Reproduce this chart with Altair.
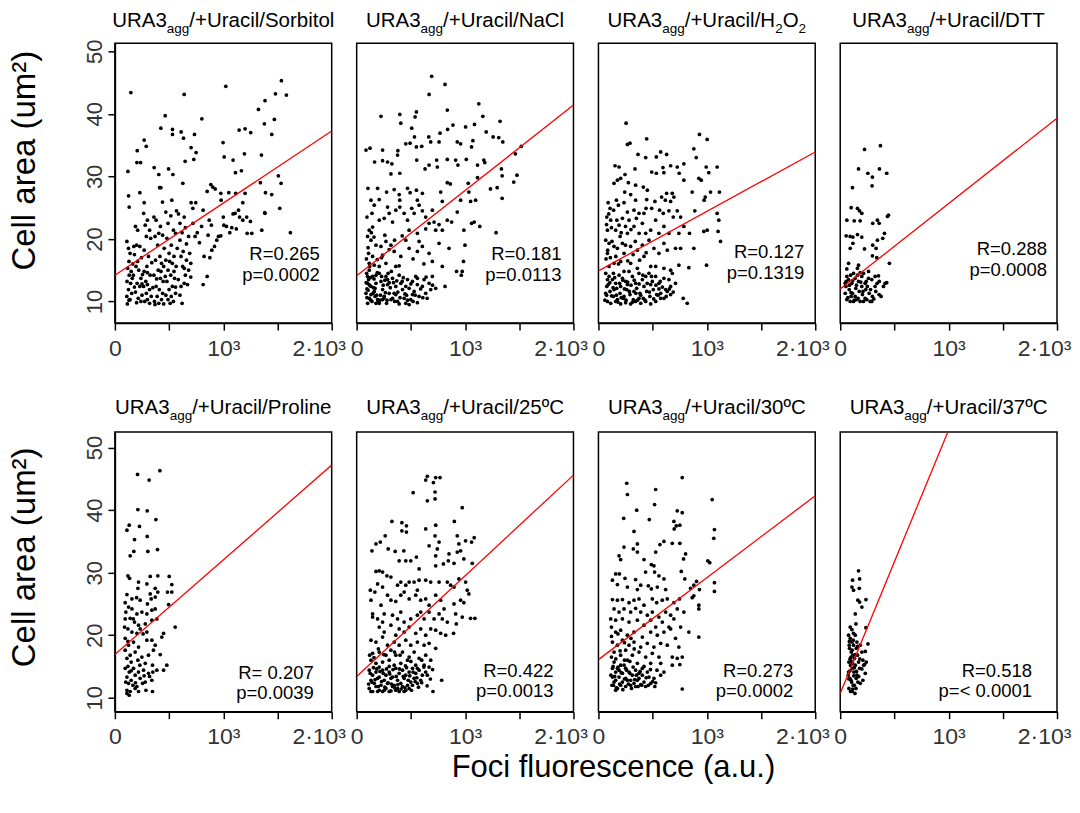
import altair as alt
import pandas as pd

# ---------------- data ----------------
X_TICKS = [0, 500, 1000, 1500, 2000]
Y_TICKS = [10, 20, 30, 40, 50]

TITLE_SEGMENTS = [
    [("URA3", 0), ("agg", 1), ("/+Uracil/Sorbitol", 0)],
    [("URA3", 0), ("agg", 1), ("/+Uracil/NaCl", 0)],
    [("URA3", 0), ("agg", 1), ("/+Uracil/H", 0), ("2", 1), ("O", 0), ("2", 1)],
    [("URA3", 0), ("agg", 1), ("/+Uracil/DTT", 0)],
    [("URA3", 0), ("agg", 1), ("/+Uracil/Proline", 0)],
    [("URA3", 0), ("agg", 1), ("/+Uracil/25ºC", 0)],
    [("URA3", 0), ("agg", 1), ("/+Uracil/30ºC", 0)],
    [("URA3", 0), ("agg", 1), ("/+Uracil/37ºC", 0)],
]
R_TEXT = ["R=0.265", "R=0.181", "R=0.127", "R=0.288", "R= 0.207", "R=0.422", "R=0.273", "R=0.518"]
P_TEXT = ["p=0.0002", "p=0.0113", "p=0.1319", "p=0.0008", "p=0.0039", "p=0.0013", "p=0.0002", "p=< 0.0001"]

# regression line: value at x=0 and at x=2000
LINE_Y0 = [14.2, 14.1, 14.9, 12.0, 16.9, 13.4, 16.1, 10.7]
LINE_Y2000 = [37.25, 41.4, 33.9, 39.3, 47.2, 45.6, 42.3, 94.9]

sorbitol = [
    (147, 43.4), (639, 43.1), (1023, 44.4), (1536, 45.3), (1582, 43.0), (1481, 43.2), (1385, 42.1), (1324, 40.7),
    (464, 39.7), (802, 39.2), (1471, 39.1), (1379, 38.4), (1253, 37.0), (1447, 36.7), (1201, 37.6), (1146, 37.4),
    (424, 37.7), (531, 37.5), (531, 36.7), (611, 37.1), (633, 36.1), (734, 36.7), (998, 35.4), (270, 35.8), (289, 34.8),
    (206, 34.1), (203, 32.2), (237, 32.2), (703, 34.6), (749, 33.8), (728, 32.7), (648, 32.4), (1195, 33.6), (1352, 33.4),
    (1008, 33.1), (1090, 32.6), (1167, 30.9), (1112, 30.6), (362, 31.4), (495, 31.2), (405, 30.3), (535, 30.3), (120, 30.8),
    (1508, 30.1), (1533, 28.9), (1342, 29.0), (126, 26.9), (230, 27.4), (412, 28.2), (424, 28.2), (627, 28.9), (885, 28.7),
    (903, 28.3), (925, 28.0), (851, 27.6), (977, 27.3), (1051, 27.4), (1389, 27.4), (1201, 27.3), (1115, 27.3), (1447, 27.1),
    (132, 25.1), (270, 25.8), (439, 25.9), (525, 26.2), (703, 25.8), (746, 25.8), (719, 24.9), (814, 24.6), (980, 26.2),
    (1109, 24.1), (1140, 24.6), (1180, 25.8), (1382, 24.2), (1521, 24.9),
    (111, 19.6), (125, 18.5), (140, 17.7), (190, 22.0), (210, 21.4), (200, 19.0), (175, 18.8), (230, 18.8), (180, 17.5),
    (245, 17.0), (265, 24.1), (300, 23.0), (280, 22.2), (320, 21.4), (290, 20.4), (330, 20.1), (270, 18.2), (310, 17.2),
    (295, 15.6), (360, 23.5), (380, 23.0), (420, 22.0), (405, 20.9), (440, 20.6), (370, 20.4), (395, 19.0), (455, 18.5),
    (415, 17.2), (375, 16.6), (430, 16.1), (450, 15.6), (470, 24.3), (516, 23.7), (568, 24.5), (490, 22.5), (540, 21.4),
    (560, 20.9), (480, 20.1), (520, 19.0), (575, 18.5), (500, 17.7), (545, 17.2), (470, 16.6), (530, 16.1), (565, 15.6),
    (587, 24.0), (639, 23.5), (600, 22.5), (650, 21.8), (620, 21.0), (680, 20.4), (600, 19.8), (660, 19.2), (630, 18.0),
    (690, 17.7), (610, 17.2), (660, 16.6), (700, 16.1), (625, 15.6), (720, 22.5), (760, 21.0), (740, 20.4), (800, 22.0),
    (780, 19.4), (823, 17.2), (876, 17.0), (894, 18.2), (919, 18.8), (940, 19.8), (955, 20.4), (977, 20.5), (870, 23.0),
    (890, 22.2), (860, 20.6), (1029, 22.0), (1078, 21.8), (1005, 22.2), (1000, 23.5), (1060, 21.0), (1120, 21.6),
    (1150, 23.5), (1180, 23.0), (1220, 20.9), (1250, 22.8), (1090, 24.0), (1216, 23.5), (1263, 20.9), (1355, 21.4),
    (1385, 24.1), (1619, 21.0),
    (118, 15.3), (150, 14.8), (132, 14.2), (160, 13.7), (112, 13.2), (145, 12.9), (125, 11.9), (155, 11.3), (110, 10.8),
    (140, 10.3), (115, 9.6), (195, 15.6), (220, 15.0), (170, 14.2), (240, 13.7), (205, 12.9), (230, 12.4), (190, 11.5),
    (250, 11.0), (215, 10.5), (240, 10.0), (200, 9.8), (270, 14.8), (325, 14.2), (285, 13.2), (300, 12.7), (265, 12.4),
    (320, 11.9), (290, 11.3), (335, 10.8), (300, 10.3), (275, 10.0), (320, 9.7), (400, 15.0), (360, 14.2), (420, 13.7),
    (445, 13.2), (380, 12.4), (410, 11.9), (440, 11.3), (390, 10.8), (430, 10.3), (365, 10.0), (405, 9.7), (450, 9.6),
    (370, 9.5), (490, 15.0), (515, 14.2), (550, 13.7), (480, 13.2), (530, 12.4), (500, 11.9), (560, 11.3), (520, 10.8),
    (490, 10.3), (540, 10.0), (510, 9.7), (680, 15.0), (650, 14.2), (700, 13.9), (640, 12.9), (610, 12.4), (670, 12.7),
    (620, 9.7), (851, 14.0), (814, 12.7),
]
sorbitol_dense = [
    (130, 16.4), (165, 16.0), (210, 16.4), (255, 14.3), (300, 14.6), (340, 16.2), (385, 13.6), (425, 14.8), (465, 14.0),
    (505, 16.4), (545, 14.8), (585, 13.5), (600, 11.0), (640, 15.3), (470, 11.0), (350, 12.2), (250, 12.8), (180, 12.3),
    (130, 10.2), (560, 12.3),
]

nacl = [
    (692, 46.0), (815, 44.7), (668, 43.1), (836, 40.6), (1127, 41.6), (1164, 39.6), (1323, 38.8), (224, 39.6), (398, 39.9),
    (551, 40.3), (539, 39.5), (407, 38.5), (508, 37.7), (839, 37.5), (888, 38.2), (1005, 37.9), (1087, 38.3), (1195, 37.1),
    (1259, 36.3), (1311, 36.2), (1348, 35.5), (665, 36.3), (769, 36.9), (533, 36.3), (453, 35.2), (493, 35.3), (551, 34.7),
    (600, 34.8), (683, 35.5), (760, 35.5), (928, 35.5), (959, 35.2), (1072, 35.7), (1060, 34.7), (86, 34.2), (123, 34.5),
    (239, 34.2), (380, 34.1), (377, 33.4), (1519, 34.8), (1464, 33.6), (165, 32.3), (239, 32.5), (285, 32.3), (325, 32.0),
    (316, 30.4), (398, 30.5), (554, 32.6), (631, 31.2), (668, 31.8), (738, 32.6), (744, 31.5), (836, 32.7), (913, 32.6),
    (934, 31.8), (1011, 32.7), (1115, 31.8), (1182, 32.2), (1173, 32.6), (1335, 31.2), (1342, 30.1), (1479, 30.2),
    (1449, 29.1), (1234, 28.0), (1296, 28.2), (1342, 26.5), (1286, 21.0), (1115, 29.8),
    (104, 28.1), (193, 28.1), (132, 26.2), (162, 25.4), (208, 26.3), (276, 27.5), (346, 27.9), (392, 27.1), (398, 26.2),
    (469, 28.1), (493, 27.4), (551, 27.8), (606, 27.3), (560, 26.2), (775, 27.5), (836, 29.0), (864, 28.8), (790, 26.0),
    (959, 26.2), (1029, 28.9), (1035, 27.5), (1051, 26.0), (1097, 26.2),
    (95, 23.5), (141, 24.1), (116, 21.4), (147, 21.9), (208, 23.0), (254, 23.3), (285, 25.1), (300, 24.1), (331, 22.7),
    (361, 24.6), (398, 25.1), (438, 24.1), (469, 23.0), (484, 21.4), (508, 24.9), (530, 24.1), (576, 25.4), (606, 24.5),
    (637, 23.5), (668, 22.5), (698, 24.6), (714, 22.7), (729, 21.4), (760, 22.3), (790, 21.4), (836, 23.0), (876, 22.7),
    (928, 24.3), (989, 21.4), (1060, 22.5), (1084, 22.7), (1136, 22.0), (560, 20.9), (637, 21.6),
    (101, 20.4), (132, 19.8), (178, 19.0), (110, 17.7), (147, 17.2), (224, 18.8), (270, 19.6), (239, 17.4), (316, 19.0),
    (346, 18.0), (407, 17.2), (453, 19.8), (484, 18.5), (560, 18.0), (576, 19.6), (606, 18.8), (668, 17.7), (698, 16.4),
    (760, 19.3), (790, 15.6), (852, 18.5), (999, 19.0), (986, 16.4), (116, 16.1), (162, 15.8), (208, 15.6), (270, 16.1),
    (361, 15.6), (392, 15.7), (974, 14.8), (965, 14.2), (922, 14.8),
    (92, 14.5), (110, 13.5), (132, 12.4), (86, 11.3), (116, 10.5), (101, 9.7), (147, 14.0), (178, 12.9), (162, 11.6),
    (193, 10.3), (141, 10.0), (208, 14.5), (224, 13.2), (239, 11.9), (254, 10.8), (208, 9.7), (270, 14.0), (285, 12.7),
    (300, 11.3), (316, 10.3), (276, 9.7), (331, 13.7), (361, 12.4), (346, 11.3), (377, 10.0), (392, 14.2), (407, 12.9),
    (423, 11.9), (438, 10.5), (453, 9.7), (469, 13.5), (484, 12.1), (515, 11.1), (499, 10.3), (545, 14.0), (560, 12.7),
    (530, 11.6), (576, 10.8), (606, 12.4), (637, 11.3), (668, 12.9), (622, 13.5), (698, 14.0), (729, 12.1), (683, 11.9),
    (815, 12.4), (560, 9.8), (392, 9.6), (484, 9.5), (101, 12.9), (132, 11.1), (178, 9.7), (239, 10.3), (331, 10.5),
    (361, 11.1), (285, 13.5), (178, 14.2), (116, 15.0), (453, 12.4), (515, 13.2), (95, 12.0), (125, 13.8), (155, 12.2),
    (185, 11.0), (215, 10.2), (245, 12.6), (265, 11.4), (300, 13.0), (350, 10.0), (420, 13.2), (460, 11.0), (520, 10.0),
    (590, 12.0), (650, 10.5), (95, 10.6), (170, 10.8),
]
nacl_dense = [
    (88, 13.0), (100, 14.0), (105, 11.8), (120, 12.6), (130, 10.2), (150, 11.3), (160, 13.6), (170, 12.1), (190, 14.6),
    (200, 10.0), (220, 11.0), (230, 14.0), (250, 10.5), (260, 13.4), (280, 10.2), (290, 14.5), (310, 12.2), (320, 14.8),
    (340, 13.0), (370, 13.3), (380, 11.5), (400, 10.6), (430, 13.8), (445, 11.2), (470, 10.2), (500, 12.8), (540, 11.0),
    (560, 13.7), (610, 10.6), (640, 13.9), (700, 12.6), (90, 16.8), (105, 18.6), (120, 15.6), (135, 21.0), (160, 20.3),
    (190, 16.7), (230, 17.0), (260, 20.6), (300, 18.3), (350, 19.8), (420, 20.5), (520, 16.8), (620, 16.0),
]

h2o2 = [
    (255, 38.5), (267, 35.1), (291, 35.3), (445, 36.0), (932, 36.7), (1003, 35.9), (365, 33.5), (436, 33.0), (534, 33.1),
    (574, 33.9), (629, 33.5), (880, 34.4), (902, 33.0), (788, 32.0), (727, 31.5), (666, 31.7), (595, 31.4), (153, 31.7),
    (190, 31.5), (337, 31.2), (491, 30.7), (534, 30.5), (604, 30.6), (745, 30.5), (788, 29.4), (994, 31.5), (1018, 30.6),
    (1095, 31.5), (926, 29.7), (948, 29.4), (245, 30.3), (175, 29.4), (205, 29.7), (144, 28.9), (276, 29.0), (414, 28.3),
    (451, 27.8), (343, 28.6), (242, 27.5), (297, 27.1), (681, 27.3), (696, 26.7), (629, 27.3), (865, 27.5), (1034, 27.5),
    (1116, 27.5), (985, 26.7), (975, 26.2),
    (166, 26.2), (89, 25.8), (107, 24.9), (184, 25.4), (236, 25.8), (343, 26.2), (445, 26.3), (521, 26.0), (583, 26.7),
    (617, 26.2), (666, 26.0), (439, 24.9), (491, 24.9), (564, 24.6), (598, 24.1), (650, 24.5), (690, 23.5), (727, 24.5),
    (758, 23.5), (328, 24.6), (374, 24.1), (420, 24.1), (267, 24.3), (221, 23.3), (889, 24.5), (1095, 24.1), (1110, 23.0),
    (77, 23.5), (113, 23.0), (159, 21.4), (83, 21.4), (190, 22.2), (282, 23.0), (328, 22.0), (405, 22.5), (436, 20.9),
    (482, 21.4), (528, 23.0), (558, 20.9), (604, 22.0), (650, 20.9), (788, 22.0), (742, 20.9), (840, 20.9), (972, 21.2),
    (1003, 21.4), (1104, 21.2), (1126, 19.6), (267, 20.9), (375, 20.9),
    (67, 19.8), (98, 19.3), (144, 18.8), (83, 17.7), (175, 18.5), (221, 19.3), (236, 17.7), (297, 18.8), (359, 18.2),
    (405, 19.0), (420, 17.2), (466, 19.8), (512, 18.5), (558, 17.7), (604, 19.3), (635, 18.2), (711, 18.5), (758, 18.5),
    (880, 18.5), (742, 15.8), (834, 15.4), (997, 15.8), (482, 15.6), (528, 15.6), (604, 15.3), (666, 15.0), (144, 16.1),
    (205, 16.4), (297, 16.1), (359, 15.3), (98, 15.6),
    (67, 14.5), (98, 14.0), (129, 13.5), (159, 12.9), (190, 14.2), (221, 13.7), (251, 13.2), (282, 14.8), (313, 14.0),
    (343, 12.9), (374, 14.5), (405, 13.5), (436, 14.0), (466, 14.5), (497, 13.2), (528, 14.0), (558, 12.9), (604, 13.7),
    (650, 13.5), (681, 14.5), (711, 12.9), (666, 12.4), (620, 11.9), (77, 12.4), (107, 11.6), (138, 10.8), (169, 12.1),
    (199, 11.3), (230, 10.5), (261, 11.9), (291, 11.1), (322, 10.3), (353, 12.1), (383, 11.3), (414, 10.5), (445, 11.6),
    (475, 10.8), (506, 11.9), (537, 11.1), (574, 11.3), (604, 10.5), (635, 11.6), (666, 11.1), (83, 10.0), (113, 9.7),
    (159, 10.0), (205, 9.6), (251, 9.8), (297, 9.6), (343, 10.0), (390, 9.7), (436, 10.0), (482, 9.6), (528, 10.0),
    (574, 10.5), (782, 10.5), (819, 9.7), (138, 14.5), (236, 14.8), (420, 12.4), (482, 12.7), (558, 12.0), (83, 13.5),
    (67, 11.3), (175, 10.3), (267, 12.7), (328, 11.6), (205, 12.4), (144, 11.9), (236, 10.8), (374, 10.5),
]
h2o2_dense = [
    (60, 10.2), (75, 11.0), (90, 12.7), (105, 13.0), (120, 10.9), (135, 12.2), (150, 13.8), (165, 11.0), (180, 9.9),
    (195, 12.9), (210, 10.6), (225, 13.4), (240, 12.0), (255, 10.2), (270, 13.1), (285, 11.6), (300, 12.6), (315, 9.9),
    (330, 13.4), (345, 11.3), (360, 10.2), (375, 12.8), (390, 11.0), (410, 14.2), (430, 10.2), (450, 12.9), (470, 11.5),
    (490, 14.0), (510, 10.4), (530, 12.6), (550, 11.0), (570, 13.2), (590, 12.3), (625, 10.8), (655, 12.0), (690, 11.5),
    (70, 16.8), (85, 18.2), (110, 17.0), (125, 19.6), (160, 17.2), (185, 16.0), (200, 20.4), (250, 19.0), (270, 16.5),
    (320, 17.5), (340, 19.6), (380, 16.6), (440, 17.8), (75, 22.3), (95, 24.0), (120, 21.8), (140, 24.6), (170, 23.0),
    (210, 21.0), (250, 22.0), (300, 21.5), (350, 23.3),
]

dtt = [
    (224, 34.3), (371, 34.9), (169, 31.2), (362, 31.2), (255, 30.5), (297, 29.9), (429, 30.5), (294, 28.5), (113, 28.2),
    (101, 25.0), (159, 24.9), (178, 24.5), (199, 24.1), (61, 23.0), (129, 22.9), (184, 22.9), (300, 22.5), (343, 23.0),
    (359, 22.5), (445, 23.8), (436, 23.6), (55, 20.5), (92, 20.4), (117, 20.3), (159, 20.7), (199, 20.3), (343, 19.8),
    (392, 20.1), (408, 20.9), (117, 19.3), (92, 18.5), (224, 18.4), (300, 19.0), (331, 18.5), (297, 17.3), (337, 17.0),
    (454, 16.1), (77, 16.1), (169, 15.8), (159, 15.3), (61, 15.2),
    (61, 14.0), (77, 13.5), (107, 12.9), (138, 13.7), (169, 13.2), (199, 14.0), (230, 12.9), (261, 13.7), (291, 13.5),
    (322, 14.0), (353, 14.1), (414, 12.9), (429, 13.0), (399, 12.4), (52, 12.4), (83, 11.9), (113, 11.3), (144, 12.1),
    (175, 11.6), (205, 11.1), (236, 11.9), (267, 11.3), (297, 10.8), (328, 11.6), (359, 11.1), (377, 10.8), (61, 10.3),
    (92, 10.0), (123, 10.0), (153, 10.3), (184, 10.0), (215, 10.0), (245, 10.3), (276, 10.0), (291, 10.0), (199, 12.4),
    (138, 10.8), (101, 10.8), (230, 10.5), (322, 12.4), (46, 11.3), (46, 12.9), (123, 14.5), (184, 14.6), (261, 14.8),
    (215, 14.5),
]
dtt_dense = [
    (55, 13.2), (70, 10.6), (85, 12.6), (100, 11.4), (115, 13.3), (130, 10.2), (150, 12.6), (165, 10.5), (190, 13.1),
    (210, 11.6), (250, 12.4), (280, 11.9), (310, 10.4), (340, 12.9), (360, 13.2), (95, 14.2), (160, 14.2), (240, 13.2),
]

proline = [
    (209, 45.7), (415, 46.3), (316, 44.8), (212, 40.1), (298, 39.9), (378, 38.5), (111, 36.8), (132, 37.6), (227, 37.4),
    (181, 35.3), (298, 35.8), (393, 33.7), (304, 33.4), (175, 33.4), (141, 32.7),
    (120, 29.5), (135, 29.1), (326, 29.4), (396, 29.5), (501, 29.4), (218, 28.5), (295, 28.2), (372, 27.5), (525, 28.1),
    (212, 27.5), (326, 26.6), (396, 26.9), (485, 26.9), (525, 26.9), (111, 26.5), (157, 25.8), (233, 25.6), (335, 25.8),
    (372, 26.1), (495, 24.9), (95, 25.2),
    (126, 24.5), (101, 23.7), (157, 24.2), (203, 23.4), (249, 23.7), (295, 23.4), (341, 24.0), (372, 24.2), (95, 22.6),
    (141, 22.7), (181, 22.1), (218, 21.6), (280, 21.8), (341, 22.4), (387, 22.6), (556, 21.3), (89, 21.3), (120, 21.0),
    (157, 20.5), (233, 21.0), (295, 20.5), (449, 20.3), (433, 19.7), (203, 20.3),
    (95, 19.5), (126, 18.4), (172, 18.9), (218, 18.1), (295, 19.2), (341, 19.2), (372, 18.4), (95, 17.6), (141, 16.8),
    (187, 17.3), (249, 16.5), (310, 16.8), (418, 16.9), (356, 17.6), (111, 16.3), (150, 15.7), (212, 16.0), (280, 15.5),
    (347, 15.2), (479, 15.2), (449, 14.4),
    (95, 14.7), (132, 14.1), (172, 14.7), (218, 14.1), (264, 14.4), (310, 13.9), (350, 14.1), (387, 14.4), (111, 13.3),
    (150, 12.8), (187, 13.6), (233, 13.1), (280, 12.5), (341, 12.8), (126, 12.3), (166, 12.0), (203, 11.8), (255, 12.3),
    (111, 11.2), (141, 11.0), (187, 11.5), (286, 11.2), (347, 11.0), (111, 10.7), (132, 10.4), (218, 11.0),
]
proline_dense = [
    (100, 12.5), (120, 15.0), (150, 14.3), (190, 12.4), (230, 15.2), (270, 13.5), (320, 13.4), (120, 19.0), (170, 22.6),
    (260, 20.2), (300, 25.0), (200, 26.0),
]

c25 = [
    (652, 45.4), (729, 45.2), (769, 45.2), (637, 44.8), (708, 44.4), (521, 42.8), (723, 42.9), (652, 41.5), (723, 41.8),
    (974, 40.4), (325, 38.2), (417, 38.0), (459, 37.5), (901, 38.2), (729, 37.6), (637, 37.0), (417, 36.7), (459, 36.5),
    (263, 35.9), (178, 34.6), (218, 34.9), (141, 33.5), (291, 33.8), (355, 33.4), (435, 33.5), (453, 31.9), (392, 31.9),
    (499, 31.9), (551, 32.5), (576, 30.6), (668, 34.3), (723, 35.9), (760, 34.9), (744, 33.8), (729, 32.7), (729, 31.1),
    (800, 31.4), (852, 33.0), (928, 35.9), (943, 34.6), (928, 33.3), (959, 33.5), (1005, 35.1), (1060, 34.9), (1084, 35.6),
    (1066, 31.5), (989, 32.2), (898, 31.5), (845, 31.9), (208, 30.3), (178, 30.2), (239, 30.1), (279, 29.5), (316, 29.3),
    (377, 28.0), (193, 28.2), (126, 27.2), (168, 26.9), (239, 27.7), (407, 28.5), (453, 28.0), (484, 28.5), (530, 28.5),
    (576, 28.8), (637, 28.8), (683, 28.5), (760, 28.5), (836, 28.5), (867, 28.0), (898, 27.7), (959, 25.6), (989, 25.2),
    (1035, 26.6), (1020, 27.2), (943, 29.0), (1005, 28.5),
    (132, 25.6), (224, 24.8), (285, 26.4), (316, 25.6), (361, 25.4), (407, 26.4), (438, 26.9), (484, 25.8), (545, 26.4),
    (560, 27.2), (591, 25.6), (637, 25.8), (668, 24.8), (729, 26.4), (775, 25.6), (806, 24.2), (898, 25.0), (147, 23.4),
    (193, 22.6), (147, 22.9), (239, 22.1), (254, 23.4), (331, 23.2), (377, 22.6), (407, 23.7), (438, 22.1), (499, 22.6),
    (560, 23.2), (591, 23.7), (622, 22.6), (668, 23.7), (714, 22.6), (760, 23.4), (790, 22.6), (836, 22.1), (913, 23.4),
    (919, 21.8), (974, 22.9), (1051, 22.7), (1091, 22.7), (208, 21.3), (254, 20.5), (316, 21.6), (361, 20.0), (392, 21.0),
    (438, 20.5), (484, 21.3), (545, 20.3), (591, 21.0), (637, 20.0), (683, 21.0), (729, 20.8), (775, 20.3), (821, 20.0),
    (894, 20.3),
    (132, 19.2), (178, 18.9), (239, 19.7), (285, 18.4), (346, 18.9), (392, 18.4), (453, 19.2), (499, 18.4), (560, 18.9),
    (622, 18.4), (668, 18.7), (729, 17.9), (147, 17.1), (208, 17.3), (270, 16.8), (316, 17.6), (361, 16.8), (423, 17.3),
    (484, 16.5), (530, 17.3), (576, 16.3), (637, 16.8), (683, 16.0), (132, 16.0), (178, 15.5), (239, 15.7), (300, 16.0),
    (407, 15.5), (469, 16.0), (545, 15.2), (622, 15.2), (784, 12.8), (704, 11.0),
    (116, 14.4), (147, 13.6), (178, 14.1), (208, 13.3), (239, 14.4), (270, 13.6), (300, 14.1), (331, 13.3), (361, 14.7),
    (392, 13.9), (423, 14.4), (453, 13.6), (484, 14.1), (515, 14.7), (545, 13.9), (576, 14.4), (606, 13.6), (637, 14.1),
    (132, 12.8), (162, 12.3), (193, 13.1), (224, 12.0), (254, 12.8), (285, 12.3), (316, 13.1), (346, 12.0), (377, 12.8),
    (407, 12.3), (438, 13.1), (469, 12.0), (499, 12.5), (530, 13.1), (560, 12.3), (591, 12.8), (116, 11.5), (147, 11.0),
    (178, 11.8), (208, 11.2), (239, 11.0), (270, 11.5), (300, 11.0), (331, 11.8), (361, 11.2), (392, 11.0), (423, 11.8),
    (453, 11.2), (484, 11.5), (515, 12.0), (132, 11.0), (193, 11.0), (254, 11.2), (316, 11.1), (377, 11.5), (438, 11.0),
    (652, 13.6), (668, 14.9), (346, 15.2), (208, 14.9), (560, 14.7),
]
c25_dense = [
    (110, 12.2), (125, 13.9), (140, 12.5), (155, 14.8), (170, 12.9), (185, 14.6), (200, 11.8), (215, 14.2), (230, 12.6),
    (245, 13.9), (260, 11.7), (275, 14.6), (290, 12.4), (305, 13.8), (320, 12.2), (335, 14.5), (350, 11.6), (365, 13.4),
    (380, 12.1), (395, 14.6), (410, 11.4), (430, 13.4), (445, 11.6), (460, 14.8), (475, 12.8), (490, 13.5), (505, 11.2),
    (520, 14.1), (540, 12.6), (555, 13.2), (570, 11.7), (600, 12.4), (620, 14.9), (650, 11.9), (680, 13.0), (120, 16.8),
    (160, 16.4), (200, 17.8), (250, 16.9), (300, 15.0), (350, 17.3), (400, 16.8), (450, 15.1), (500, 15.8), (600, 16.0),
    (700, 14.5),
]

c30 = [
    (773, 45.2), (261, 44.3), (267, 42.5), (528, 43.3), (518, 40.9), (1049, 41.7), (353, 40.0), (469, 38.5), (233, 38.7),
    (727, 39.9), (773, 39.6), (696, 38.2), (718, 37.5), (751, 37.6), (699, 37.0), (1070, 36.9), (328, 36.6), (1064, 35.5),
    (359, 34.6), (604, 35.0), (567, 34.5), (681, 34.7), (751, 34.7), (236, 34.1), (322, 33.8), (359, 33.3), (190, 32.7),
    (205, 32.1), (528, 33.3), (804, 33.0), (785, 32.2), (1009, 31.9), (1027, 31.6), (420, 32.1), (488, 31.3), (512, 31.1),
    (764, 30.2), (159, 29.8), (193, 29.8), (245, 29.1), (343, 28.9), (435, 30.1), (518, 30.1), (558, 29.5), (604, 29.0),
    (797, 29.0), (905, 28.6), (880, 28.0), (1070, 28.4), (1070, 27.0), (932, 27.3), (850, 27.5),
    (129, 28.8), (175, 28.1), (267, 27.7), (359, 27.3), (390, 28.0), (460, 27.9), (488, 27.4), (543, 27.7), (620, 27.3),
    (129, 25.7), (175, 25.6), (221, 25.7), (282, 25.2), (328, 25.6), (374, 25.8), (420, 24.8), (497, 25.8), (537, 25.2),
    (589, 25.6), (635, 25.8), (696, 25.2), (748, 25.8), (865, 26.0), (926, 24.8), (926, 24.2), (880, 26.3), (144, 24.2),
    (190, 23.7), (236, 24.2), (297, 23.7), (343, 24.3), (390, 23.7), (451, 23.2), (497, 23.7), (558, 22.9), (620, 23.7),
    (666, 23.2), (727, 24.2), (788, 23.7), (113, 22.6), (159, 22.4), (221, 22.6), (282, 22.1), (359, 22.4), (420, 21.6),
    (482, 22.4), (528, 21.3), (589, 22.1), (650, 21.3), (696, 22.6), (758, 21.3), (834, 20.5), (666, 21.0), (120, 21.3),
    (159, 20.5), (205, 20.8), (267, 20.0), (328, 20.5), (405, 19.7), (482, 20.5), (543, 20.0), (604, 20.5),
    (129, 18.9), (175, 18.4), (221, 19.2), (282, 18.4), (328, 18.9), (390, 18.1), (451, 18.7), (512, 18.1), (574, 18.7),
    (635, 18.4), (711, 19.5), (742, 18.1), (926, 19.7), (144, 17.3), (205, 16.8), (251, 17.6), (313, 16.8), (374, 17.3),
    (436, 16.5), (497, 17.1), (558, 16.5), (681, 16.5), (727, 16.3), (773, 16.5), (482, 15.5), (574, 15.5), (681, 15.2),
    (751, 15.3), (144, 15.7), (205, 15.2), (267, 16.0), (359, 15.5),
    (129, 14.7), (159, 14.1), (190, 14.4), (221, 13.9), (251, 14.7), (282, 14.1), (313, 13.6), (343, 14.4), (374, 13.9),
    (405, 14.7), (451, 14.1), (129, 13.3), (159, 12.8), (190, 13.3), (221, 12.5), (251, 13.1), (297, 12.8), (328, 12.3),
    (374, 13.1), (420, 12.5), (466, 13.3), (512, 13.1), (528, 12.4), (574, 13.6), (604, 14.1), (138, 12.0), (175, 11.5),
    (205, 12.0), (251, 11.8), (297, 12.0), (343, 11.8), (390, 12.1), (436, 11.8), (482, 12.3), (159, 11.2), (144, 12.5),
    (175, 14.7), (236, 15.2), (267, 12.8), (359, 12.8), (405, 13.6), (773, 11.4),
]
c30_dense = [
    (115, 13.6), (125, 12.0), (135, 15.0), (150, 13.4), (165, 11.6), (180, 14.9), (195, 12.2), (210, 14.0), (225, 11.3),
    (240, 13.0), (260, 14.4), (275, 12.2), (290, 13.9), (305, 11.5), (320, 14.9), (335, 12.9), (350, 13.6), (365, 11.8),
    (385, 14.2), (400, 12.0), (420, 15.0), (440, 13.2), (460, 12.0), (480, 14.5), (500, 12.6), (520, 11.8), (540, 14.4),
    (120, 16.5), (160, 16.2), (200, 17.5), (240, 16.0), (290, 15.8), (330, 17.8), (120, 19.8), (180, 20.2), (240, 18.8),
    (300, 19.5),
]

c37 = [
    (169, 30.3), (114, 28.8), (179, 29.0), (108, 27.7), (123, 27.2), (176, 27.5), (237, 25.7), (163, 25.6), (179, 25.3),
    (200, 24.5), (139, 23.4), (92, 21.3), (108, 20.9), (145, 21.8), (237, 21.2),
    (77, 20.0), (92, 19.5), (108, 18.9), (123, 18.4), (86, 17.9), (102, 17.3), (117, 16.8), (132, 16.3), (80, 15.7),
    (95, 15.2), (111, 14.7), (126, 14.1), (74, 13.6), (89, 13.1), (105, 12.5), (120, 12.0), (80, 11.5), (95, 11.0),
    (139, 20.0), (154, 18.9), (148, 17.9), (160, 16.8), (169, 15.7), (179, 14.7), (154, 13.6), (163, 12.5), (145, 11.5),
    (136, 10.7), (111, 11.0), (123, 20.3), (185, 18.4), (200, 17.3), (209, 16.0), (216, 15.2), (231, 13.9), (225, 15.3),
    (256, 18.6), (231, 17.4), (240, 15.7), (185, 12.3), (209, 12.8), (83, 18.4), (99, 16.5), (114, 15.5), (77, 14.1),
    (139, 15.2), (148, 13.1),
]
c37_dense = [
    (80, 13.0), (90, 14.3), (100, 15.9), (110, 17.6), (120, 19.2), (130, 14.8), (140, 16.9), (150, 14.2), (160, 18.2),
    (170, 13.4), (100, 12.8), (115, 11.4), (125, 13.5), (90, 16.2), (85, 19.0), (200, 14.6), (180, 16.2), (130, 12.0),
]

PANEL_POINTS = [
    sorbitol + sorbitol_dense, nacl + nacl_dense, h2o2 + h2o2_dense, dtt + dtt_dense,
    proline + proline_dense, c25 + c25_dense, c30 + c30_dense, c37 + c37_dense,
]

# ---------------- layout / style ----------------
FONT = "Liberation Sans"
PW, PH = 217, 280
ROW_DOMAINS = [[6.55, 51.27], [7.77, 52.5]]
YTITLE_Y = [117, 125]
MAIN_FS, SUB_FS, SUB_DY = 20.5, 13.5, 6
TITLE_BASE = [-16.5, -17.5]
ANNOT_RIGHT = [12, 12, 11, 10, 18, 20, 22, 25]
ANNOT_BASE = [217, 217, 215, 212, 247, 245, 245, 245]

# Arial / Liberation Sans advance widths (per 1000 em) for laying out composite titles
AW = {'U': 722, 'R': 722, 'A': 667, '3': 556, 'a': 556, 'g': 556, '/': 278, '+': 584, 'r': 333, 'c': 500,
      'i': 222, 'l': 222, 'S': 667, 'o': 556, 'b': 556, 't': 278, 'N': 722, 'C': 722, 'H': 722, 'O': 778,
      '2': 556, 'D': 722, 'T': 611, 'P': 667, 'n': 556, 'e': 556, '5': 556, '0': 556, '7': 556, 'º': 365, ' ': 278}


def text_width(s, fs):
    return sum(AW.get(ch, 556) for ch in s) / 1000.0 * fs


def title_layers(segs, base):
    total = sum(text_width(s, SUB_FS if sub else MAIN_FS) for s, sub in segs)
    x = (PW - total) / 2.0
    out = []
    for s, sub in segs:
        fs = SUB_FS if sub else MAIN_FS
        out.append(
            alt.Chart(pd.DataFrame({"t": [s]}))
            .mark_text(align="left", baseline="alphabetic", fontSize=fs, font=FONT, color="black")
            .encode(text="t:N", x=alt.value(x), y=alt.value(base + (SUB_DY if sub else 0)))
        )
        x += text_width(s, fs)
    return out


X_LABELS = "datum.value == 0 ? '0' : datum.value == 1000 ? '10³' : datum.value == 2000 ? '2·10³' : ''"


def panel(i):
    row, col = divmod(i, 4)
    xs = alt.Scale(domain=[0, 2000], nice=False, zero=False)
    ys = alt.Scale(domain=ROW_DOMAINS[row], nice=False, zero=False)
    xaxis = alt.Axis(values=X_TICKS, labelExpr=X_LABELS, title=None, tickSize=7, labelFontSize=23,
                     labelPadding=7, labelOverlap=False, labelFlush=False, grid=False,
                     labelOffset={"condition": {"test": "datum.value == 2000", "value": -13}, "value": 0})
    if col == 0:
        yaxis = alt.Axis(values=Y_TICKS, title="Cell area (um²)", titleFontSize=33, titleAngle=270,
                         titleX=-90, titleY=YTITLE_Y[row], titleAlign="center", titleBaseline="middle",
                         labelAngle=270, labelAlign="center", labelBaseline="alphabetic", labelFontSize=22,
                         labelPadding=6, tickSize=7, grid=False)
    else:
        yaxis = None
    pts = [{"x": a, "y": b} for a, b in PANEL_POINTS[i]]
    dots = alt.Chart(pd.DataFrame(pts)).mark_circle(size=14, color="black", opacity=1).encode(
        x=alt.X("x:Q", scale=xs, axis=xaxis), y=alt.Y("y:Q", scale=ys, axis=yaxis))
    line = alt.Chart(pd.DataFrame({"x": [0, 2000], "y": [LINE_Y0[i], LINE_Y2000[i]]})).mark_line(
        color="#ff0000", strokeWidth=1.3, clip=True).encode(
        x=alt.X("x:Q", scale=xs, axis=xaxis), y=alt.Y("y:Q", scale=ys, axis=yaxis))
    rtxt = alt.Chart(pd.DataFrame({"t": [R_TEXT[i]]})).mark_text(
        align="right", baseline="alphabetic", fontSize=18.5, font=FONT, color="black").encode(
        text="t:N", x=alt.value(PW - ANNOT_RIGHT[i]), y=alt.value(ANNOT_BASE[i]))
    ptxt = alt.Chart(pd.DataFrame({"t": [P_TEXT[i]]})).mark_text(
        align="right", baseline="alphabetic", fontSize=18.5, font=FONT, color="black").encode(
        text="t:N", x=alt.value(PW - ANNOT_RIGHT[i]), y=alt.value(ANNOT_BASE[i] + 20.5))
    layers = [dots, line, rtxt, ptxt] + title_layers(TITLE_SEGMENTS[i], TITLE_BASE[row])
    if i == 6:
        layers.append(
            alt.Chart(pd.DataFrame({"t": ["Foci fluorescence (a.u.)"]})).mark_text(
                align="center", baseline="alphabetic", fontSize=31, font=FONT, color="black").encode(
                text="t:N", x=alt.value(15), y=alt.value(345)))
    return alt.layer(*layers).properties(width=PW, height=PH)


chart = alt.ConcatChart(
    concat=[panel(i) for i in range(8)],
    columns=4,
    spacing={"row": 109, "column": 25},
    bounds="flush",
).properties(
    padding={"left": 0, "top": 1, "right": 0, "bottom": 0},
    background="white",
).configure_view(
    stroke="black", strokeWidth=1.5
).configure_axis(
    domainColor="black", domainWidth=1.5, tickColor="black", tickWidth=1.5,
    labelFont=FONT, labelColor="#333333", titleFont=FONT, titleColor="black", titleFontWeight="normal",
)

chart.save("out.html", embed_options={"renderer": "svg", "actions": False})
